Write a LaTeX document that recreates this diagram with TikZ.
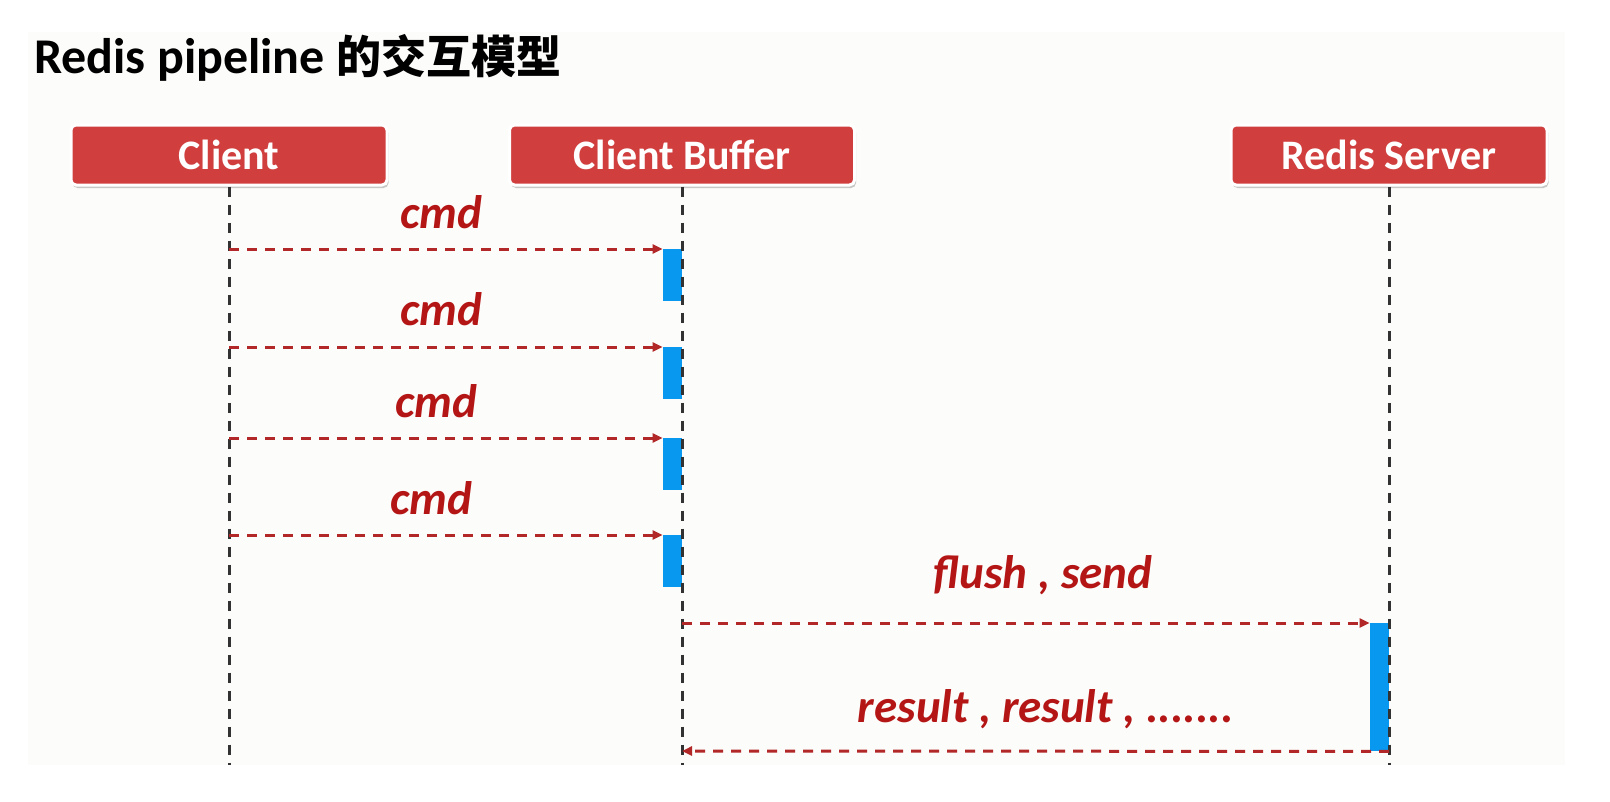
\documentclass[tikz,border=0pt]{standalone}
\usepackage{fontspec}
\setmainfont{Carlito}
\newfontfamily\cjk{Noto Sans CJK SC}
\usetikzlibrary{arrows.meta,shadows}
\definecolor{panelbg}{RGB}{252,252,250}
\definecolor{boxred}{RGB}{208,62,62}
\definecolor{barblue}{RGB}{8,152,240}
\definecolor{msgred}{RGB}{178,40,40}
\definecolor{lblred}{RGB}{180,22,22}
\definecolor{lifegray}{RGB}{50,50,50}
\tikzset{
  actor/.style={rectangle, rounded corners=5pt, fill=boxred, draw=white, line width=3pt,
    minimum height=60pt, text=white, font=\bfseries\fontsize{42}{42}\selectfont,
    drop shadow={shadow xshift=1.5pt, shadow yshift=-3pt, opacity=0.35, fill=black!60}},
  lifeline/.style={draw=lifegray, line width=3pt, dash pattern=on 10pt off 8pt},
  msg/.style={draw=msgred, line width=3pt, dash pattern=on 10pt off 8pt,
    -{Triangle[length=10pt,width=9pt]}},
  actbar/.style={rectangle, fill=barblue, draw=none, inner sep=0pt, minimum width=19pt},
  lbl/.style={anchor=base, text=lblred, font=\bfseries\itshape\fontsize{47}{47}\selectfont, inner sep=0pt}
}
\begin{document}
\begin{tikzpicture}[x=1pt,y=-1pt]
\useasboundingbox[fill=white] (0,0) rectangle (1610,801);
\fill[panelbg] (28,32) rectangle (1565,765);

% title
\node[anchor=base west, inner sep=0pt, text=black] (title) at (34,73)
  {\bfseries\fontsize{50}{50}\selectfont Redis pipeline {\cjk\fontsize{45}{45}\selectfont 的交互模型}};

% actors
\node[actor, minimum width=316pt] (client) at (229,155) {Client};
\node[actor, minimum width=345pt] (buffer) at (682,155) {Client Buffer};
\node[actor, minimum width=316pt] (server) at (1389,155) {Redis Server};

% activation bars
\node[actbar, anchor=north east, minimum height=52pt] (b1) at (682,249) {};
\node[actbar, anchor=north east, minimum height=52pt] (b2) at (682,347) {};
\node[actbar, anchor=north east, minimum height=52pt] (b3) at (682,438) {};
\node[actbar, anchor=north east, minimum height=52pt] (b4) at (682,535) {};
\node[actbar, anchor=north east, minimum height=128pt] (sb) at (1389,623) {};

% lifeline ends
\coordinate (clEnd) at (229,765);
\coordinate (cbEnd) at (682,765);
\coordinate (rsEnd) at (1389,765);
\draw[lifeline] (client.south) -- (clEnd);
\draw[lifeline] (buffer.south) -- (cbEnd);
\draw[lifeline] (server.south) -- (rsEnd);

% message origins
\coordinate (c1) at (229,249);
\coordinate (c2) at (229,347);
\coordinate (c3) at (229,438);
\coordinate (c4) at (229,535);
\coordinate (f1) at (682,623);
\coordinate (r1) at (682,751);

\draw[msg] (c1) -- (b1.north west);
\draw[msg] (c2) -- (b2.north west);
\draw[msg] (c3) -- (b3.north west);
\draw[msg] (c4) -- (b4.north west);
\draw[msg] (f1) -- (sb.north west);
\draw[msg] (sb.south east) -- (r1);

% labels
\node[lbl] (l1) at (441,228) {cmd};
\node[lbl] (l2) at (441,325) {cmd};
\node[lbl] (l3) at (436,417) {cmd};
\node[lbl] (l4) at (431,514) {cmd};
\node[lbl] (lf) at (1043,588) {flush , send};
\node[lbl] (lr) at (1046,722) {result , result , .......};
\end{tikzpicture}
\end{document}
